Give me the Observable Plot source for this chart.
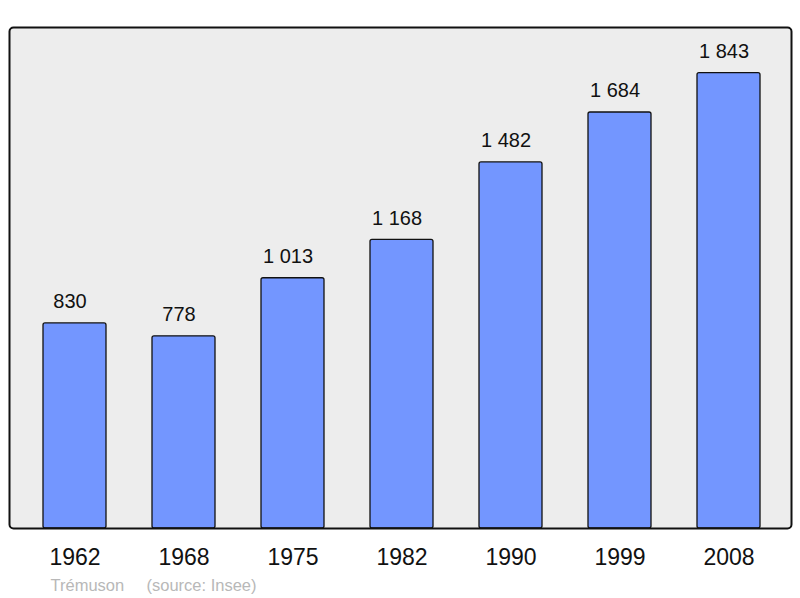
<!DOCTYPE html>
<html>
<head>
<meta charset="utf-8">
<script src="https://cdn.jsdelivr.net/npm/d3@7"></script>
<script src="https://cdn.jsdelivr.net/npm/@observablehq/plot@0.6"></script>
<style>
  html, body { margin: 0; padding: 0; background: #fff; }
  svg { display: block; }
</style>
</head>
<body>
<div id="chart"></div>
<script>
const years = ["1962", "1968", "1975", "1982", "1990", "1999", "2008"];
const population = [830, 778, 1013, 1168, 1482, 1684, 1843];
const commune = "Trémuson";
const source = "(source: Insee)";

const data = years.map((y, i) => ({year: y, pop: population[i]}));
const fmt = v => d3.format(",")(v).replace(/,/g, " ");

const chart = Plot.plot({
  width: 800,
  height: 598,
  marginLeft: 9,
  marginRight: 9,
  marginTop: 27,
  marginBottom: 70,
  style: {fontFamily: "Liberation Sans, Arial, sans-serif", background: "#fff"},
  x: {domain: years, range: [18, 784], paddingInner: 0.424, paddingOuter: 0.212, axis: null},
  y: {domain: [0, 2028], range: [528, 27], axis: null},
  marks: [
    Plot.frame({fill: "#ededed", stroke: "none", rx: 4}),
    Plot.barY(data, {x: "year", y: "pop", fill: "#7396ff", stroke: "#111", strokeWidth: 1.3, rx: 2}),
    Plot.frame({stroke: "#111", strokeWidth: 2, rx: 4}),
    Plot.text(data, {x: "year", y: "pop", text: d => fmt(d.pop), dx: -5, dy: -15, lineAnchor: "bottom", fontSize: 20, fill: "#111"}),
    Plot.text(data, {x: "year", text: "year", frameAnchor: "bottom", dy: 36, lineAnchor: "bottom", fontSize: 23, fill: "#111"}),
    Plot.text([commune], {text: d => d, frameAnchor: "bottom-left", dx: 41, dy: 62, lineAnchor: "bottom", textAnchor: "start", fontSize: 16.5, fill: "#b8b8b8"}),
    Plot.text([source], {text: d => d, frameAnchor: "bottom-left", dx: 137, dy: 62, lineAnchor: "bottom", textAnchor: "start", fontSize: 16.5, fill: "#b8b8b8"})
  ]
});
document.getElementById("chart").appendChild(chart);
</script>
</body>
</html>
